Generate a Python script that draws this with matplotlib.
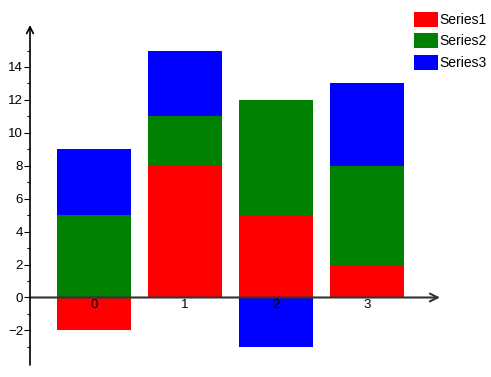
import numpy as np
import matplotlib
matplotlib.use("Agg")
import matplotlib.pyplot as plt

plt.rcParams['font.family'] = ['Liberation Sans', 'DejaVu Sans']

categories = ["0", "1", "2", "3"]
series_names = ["Series1", "Series2", "Series3"]
series1 = [-2, 8, 5, 2]
series2 = [5, 3, 7, 6]
series3 = [4, 4, -3, 5]
colors = ["#ff0000", "#008000", "#0000ff"]

W, H = 491, 377
fig = plt.figure(figsize=(W / 100, H / 100), dpi=100)
# axes box: left edge = y axis line, right edge = x arrow tip
ax = fig.add_axes([30 / W, (H - 365) / H, (440 - 30) / W, (365 - 25) / H])
ax.set_xlim(-0.70, 3.80)
ax.set_ylim(-4.1, 16.55)

x = np.arange(len(categories))
pos_bottom = np.zeros(len(categories))
neg_bottom = np.zeros(len(categories))
for name, vals, c in zip(series_names, [series1, series2, series3], colors):
    vals = np.array(vals, dtype=float)
    bottom = np.where(vals >= 0, pos_bottom, neg_bottom)
    ax.bar(x, vals, width=0.81, bottom=bottom, color=c, label=name, zorder=1)
    pos_bottom += np.where(vals >= 0, vals, 0)
    neg_bottom += np.where(vals < 0, vals, 0)

for s in ax.spines.values():
    s.set_visible(False)
ax.set_axisbelow(False)

axis_col = "#333333"
# x axis with arrow
ax.annotate("", xy=(1, 0), xycoords=ax.get_yaxis_transform(),
            xytext=(0, 0), textcoords=ax.get_yaxis_transform(),
            arrowprops=dict(arrowstyle="->", color=axis_col, lw=1.5,
                            mutation_scale=14, shrinkA=0, shrinkB=0), zorder=3)
# y axis with arrow
ax.annotate("", xy=(0, 1), xycoords="axes fraction",
            xytext=(0, 0), textcoords="axes fraction",
            arrowprops=dict(arrowstyle="->", color="black", lw=1.2,
                            mutation_scale=12, shrinkA=0, shrinkB=0), zorder=3)

ax.set_yticks(np.arange(-2, 15, 2))
ax.set_yticks(np.arange(-3, 16, 1), minor=True)
ax.tick_params(axis="y", which="major", length=4, width=0.8, labelsize=9.5, pad=1)
ax.tick_params(axis="y", which="minor", length=2.5, width=0.8)

ax.set_xticks(x)
ax.set_xticklabels(categories)
ax.tick_params(axis="x", length=0, labelsize=9.5, pad=1)
ax.spines["bottom"].set_position(("data", 0))

ax.legend(loc="upper left", bbox_to_anchor=(408 / W, 1 - 6 / H),
          bbox_transform=fig.transFigure, frameon=False, fontsize=10,
          handlelength=1.75, handleheight=1.3, handletextpad=0.1,
          labelspacing=0.45, borderaxespad=0)

fig.savefig("out.png", dpi=100)
